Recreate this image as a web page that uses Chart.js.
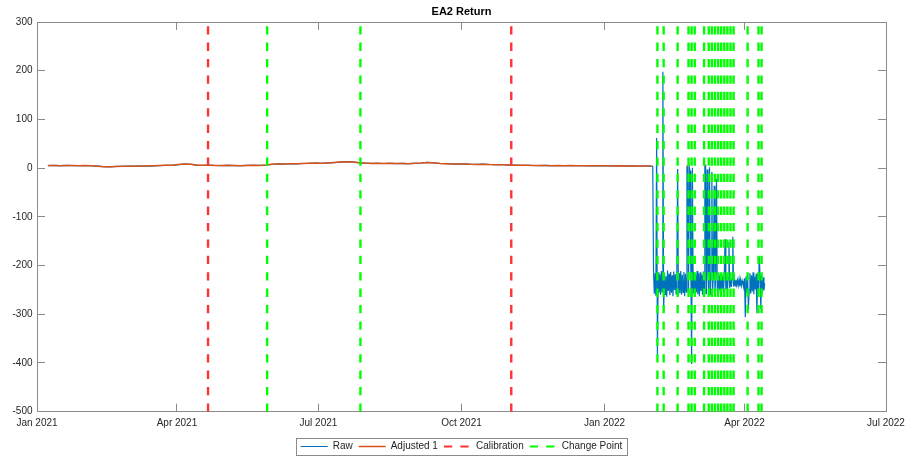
<!DOCTYPE html>
<html>
<head>
<meta charset="utf-8">
<title>EA2 Return</title>
<script src="https://cdn.jsdelivr.net/npm/chart.js@4.4.0/dist/chart.umd.min.js"></script>
<style>
  html, body { margin: 0; padding: 0; background: #fff; overflow: hidden; }
</style>
</head>
<body>
<canvas id="returnChart" width="908" height="456"></canvas>
<script>
// axis ticks
const xTickDates = ['2021-01-01', '2021-04-01', '2021-07-01', '2021-10-01', '2022-01-01', '2022-04-01', '2022-07-01'];
const xTickLabels = ['Jan 2021', 'Apr 2021', 'Jul 2021', 'Oct 2021', 'Jan 2022', 'Apr 2022', 'Jul 2022'];
const yTicks = [-500, -400, -300, -200, -100, 0, 100, 200, 300];

// steady period, one reading every 4 days (raw and adjusted agree)
const steadyStart = '2021-01-08';
const steadyStepDays = 4;
const steadyValues = [
  5.2, 5.5, 5.1, 5.6, 5.3, 5.0, 5.4, 4.9, 4.1, 3.0,
  2.7, 3.5, 3.9, 4.1, 4.0, 4.4, 4.2, 4.7, 5.3, 5.9,
  5.7, 7.4, 8.3, 7.8, 6.1, 5.7, 6.0, 5.4, 5.2, 5.7,
  5.3, 5.0, 5.6, 5.8, 5.5, 6.2, 7.9, 8.7, 8.3, 9.1,
  8.8, 9.5, 9.9, 10.4, 10.0, 10.8, 11.5, 12.4, 13.3, 12.7,
  11.2, 10.3, 9.7, 10.0, 9.5, 9.9, 9.3, 9.6, 9.1, 9.8,
  10.6, 11.7, 10.9, 9.7, 9.1, 8.7, 8.3, 8.6, 8.0, 7.7,
  8.1, 7.5, 7.2, 7.0, 6.5, 6.0, 5.7, 5.9, 5.4, 5.2,
  5.5, 5.1, 5.3, 5.0, 5.2, 4.9, 5.1, 4.8, 5.0, 4.7,
  4.9, 4.6, 4.8, 4.5, 4.7, 4.4, 4.6, 4.3
];

// raw readings every 12 h once the sensor starts jumping
const faultStart = '2022-01-31T12:00:00Z';
const faultStepDays = 0.5;
const faultRaw = [
  4.3, 3.9, -212, -258, -216, -262, 62, -384, -214, -256,
  -218, -260, -211, -254, 198, -296, -215, -259, -222, -264,
  -210, -252, -217, -261, -213, -256, -220, -263, -212, -250,
  -218, -258, -214, -2, -262, -216, -257, -211, -260, -219,
  -255, -213, -263, -217, -254, 3, 5, -258, 2, -6,
  -214, -402, 1, -256, -213, -262, -218, -255, -211, -259,
  -216, -263, -214, -252, -219, -260, -212, -257, 4, 6,
  -259, -3, -215, -256, 2, -261, -217, -8, -254, -213,
  -36, -258, -219, -22, -252, -216, -250, -221, -255, -218,
  -248, -223, -253, -220, -146, -249, -222, -251, -226, -152,
  -246, -225, -244, -228, -141, -243, -227, -242, -229, -240,
  -230, -241, -228, -243, -229, -241, -231, -238, -245, -226,
  -306, -222, -255, -218, -291, -250, -216, -258, -220, -253,
  -214, -259, -223, -249, -217, -298, -215, -256, -182, -221,
  -289, -219, -257, -224, -251, -236
];

// short stretches where the adjusted series is valid again
const adjustedLateTimes = ['2022-02-23T00:00:00Z', '2022-02-23T12:00:00Z', '2022-03-06T12:00:00Z', '2022-03-07T00:00:00Z'];
const adjustedLateValues = [3, 5, 4, 6];

const calibrationDates = ['2021-04-21', '2021-11-02'];
const changePointDates = [
  '2021-05-29', '2021-07-28',
  '2022-02-04', '2022-02-08', '2022-02-17', '2022-02-24', '2022-02-26', '2022-02-28',
  '2022-03-06', '2022-03-09', '2022-03-11', '2022-03-13', '2022-03-15', '2022-03-17',
  '2022-03-19', '2022-03-21', '2022-03-23', '2022-03-25',
  '2022-04-03', '2022-04-10', '2022-04-12'
];

const TEXT = '#262626';
const AXIS = '#8a8a8a';
const DASH = [8.3, 8.1];

const origin = Date.parse(xTickDates[0]);
function dayOf(s) {
  return (Date.parse(s) - origin) / 86400000;
}

const xTickDays = xTickDates.map(dayOf);
const yMin = yTicks[0];
const yMax = yTicks[yTicks.length - 1];

const steadyFirst = dayOf(steadyStart);
const faultFirst = dayOf(faultStart);

const steadyPoints = steadyValues.map((v, k) => ({ x: steadyFirst + k * steadyStepDays, y: v }));
const rawPoints = steadyPoints.concat(faultRaw.map((v, i) => ({ x: faultFirst + i * faultStepDays, y: v })));

const adjustedPoints = steadyPoints.slice();
adjustedLateTimes.forEach((t, i) => {
  const d = dayOf(t);
  const prev = adjustedPoints[adjustedPoints.length - 1];
  if (d - prev.x > 1) adjustedPoints.push({ x: (prev.x + d) / 2, y: null });
  adjustedPoints.push({ x: d, y: adjustedLateValues[i] });
});

// full-height vertical lines, separated by gaps
function markerLines(dates) {
  const pts = [];
  dates.forEach(s => {
    const d = dayOf(s);
    pts.push({ x: d, y: yMin }, { x: d, y: yMax }, { x: d, y: null });
  });
  return pts;
}

// box around the legend entries
const legendFrame = {
  id: 'legendFrame',
  afterDraw(chart) {
    const boxes = chart.legend && chart.legend.legendHitBoxes;
    if (!boxes || !boxes.length) return;
    const first = boxes[0];
    const last = boxes[boxes.length - 1];
    const ctx = chart.ctx;
    const left = Math.round(first.left - 5) + 0.5;
    const right = Math.round(last.left + last.width + 5) + 0.5;
    const mid = first.top + first.height / 2;
    const top = Math.round(mid - 8.5) + 0.5;
    const bottom = Math.round(mid + 8.5) + 0.5;
    ctx.save();
    ctx.strokeStyle = AXIS;
    ctx.lineWidth = 1;
    ctx.strokeRect(left, top, right - left, bottom - top);
    ctx.restore();
  }
};

Chart.defaults.font.family = "'Liberation Sans', Arial, sans-serif";
Chart.defaults.font.size = 10;
Chart.defaults.color = TEXT;

const setXTicks = s => { s.ticks = xTickDays.map(v => ({ value: v })); };
const setYTicks = s => { s.ticks = yTicks.map(v => ({ value: v })); };
const frameGrid = { drawOnChartArea: false, drawTicks: true, tickLength: -8, color: AXIS, lineWidth: 1 };
const frameBorder = { display: true, color: AXIS, width: 1 };

new Chart(document.getElementById('returnChart'), {
  type: 'line',
  data: {
    datasets: [
      {
        label: 'Raw',
        data: rawPoints,
        borderColor: '#0072BD',
        borderWidth: 1.2,
        order: 4
      },
      {
        label: 'Adjusted 1',
        data: adjustedPoints,
        borderColor: '#D95319',
        borderWidth: 1.5,
        order: 3
      },
      {
        label: 'Calibration',
        data: markerLines(calibrationDates),
        borderColor: '#ff3333',
        borderWidth: 2.4,
        borderDash: DASH,
        order: 2
      },
      {
        label: 'Change Point',
        data: markerLines(changePointDates),
        borderColor: '#00ff00',
        borderWidth: 2.4,
        borderDash: DASH,
        order: 1
      }
    ]
  },
  options: {
    responsive: false,
    animation: false,
    events: [],
    spanGaps: false,
    elements: {
      point: { radius: 0, hitRadius: 0 },
      line: { tension: 0, fill: false }
    },
    layout: { padding: { top: 0, right: 22, bottom: -5.5, left: 0 } },
    scales: {
      x: {
        type: 'linear',
        position: 'bottom',
        min: xTickDays[0],
        max: xTickDays[xTickDays.length - 1],
        afterBuildTicks: setXTicks,
        afterFit: s => { s.height = 23.8; s.paddingLeft = 0; s.paddingRight = 0; },
        grid: frameGrid,
        border: frameBorder,
        ticks: {
          autoSkip: false,
          maxRotation: 0,
          padding: 13.8,
          callback: (v, i) => xTickLabels[i]
        }
      },
      x2: {
        type: 'linear',
        position: 'top',
        min: xTickDays[0],
        max: xTickDays[xTickDays.length - 1],
        afterBuildTicks: setXTicks,
        afterFit: s => { s.height = 0; s.paddingLeft = 0; s.paddingRight = 0; },
        grid: frameGrid,
        border: frameBorder,
        ticks: { display: false }
      },
      y: {
        type: 'linear',
        position: 'left',
        min: yMin,
        max: yMax,
        afterBuildTicks: setYTicks,
        afterFit: s => { s.width = 37; },
        grid: frameGrid,
        border: frameBorder,
        ticks: {
          padding: 12.5,
          callback: v => String(v)
        }
      },
      y2: {
        type: 'linear',
        position: 'right',
        min: yMin,
        max: yMax,
        afterBuildTicks: setYTicks,
        afterFit: s => { s.width = 0; },
        grid: frameGrid,
        border: frameBorder,
        ticks: { display: false }
      }
    },
    plugins: {
      title: {
        display: true,
        text: 'EA2 Return',
        fullSize: false,
        color: '#000',
        font: { size: 11, weight: 'bold' },
        padding: { top: 5, bottom: 3.8 }
      },
      legend: {
        display: true,
        position: 'bottom',
        fullSize: false,
        labels: {
          usePointStyle: true,
          pointStyleWidth: 27,
          padding: 6,
          color: TEXT,
          font: { size: 10 },
          generateLabels: chart => chart.data.datasets.map((ds, i) => ({
            text: ds.label,
            datasetIndex: i,
            pointStyle: 'line',
            strokeStyle: ds.borderColor,
            fillStyle: ds.borderColor,
            lineWidth: Math.min(ds.borderWidth, 2),
            lineDash: ds.borderDash || [],
            fontColor: TEXT,
            hidden: false
          }))
        }
      },
      tooltip: { enabled: false }
    }
  },
  plugins: [legendFrame]
});
</script>
</body>
</html>
